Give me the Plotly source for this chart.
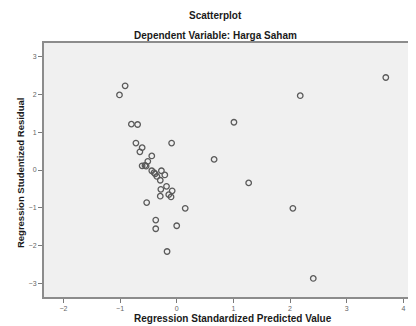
import plotly.graph_objects as go

# Regression Standardized Predicted Value
pred = [-1.01, -0.91, 2.18, 3.69, 1.01, 0.66, 1.27, 2.05, 2.41,
        -0.80, -0.69, -0.09, -0.72, -0.61, -0.65, -0.44, -0.51, -0.61,
        -0.54, -0.56, -0.44, -0.27, -0.40, -0.35, -0.21, -0.29, -0.18,
        -0.28, -0.08, -0.14, -0.10, -0.29, -0.53, 0.15, -0.37, -0.37,
        0.00, -0.17, -0.38]
# Regression Studentized Residual
resid = [1.98, 2.22, 1.96, 2.44, 1.26, 0.28, -0.34, -1.01, -2.86,
         1.21, 1.20, 0.71, 0.71, 0.59, 0.48, 0.37, 0.23, 0.11,
         0.10, 0.12, -0.02, -0.02, -0.07, -0.17, -0.13, -0.27, -0.43,
         -0.51, -0.55, -0.65, -0.71, -0.69, -0.86, -1.01, -1.32, -1.55,
         -1.47, -2.15, -0.10]

x_ticks = [-2, -1, 0, 1, 2, 3, 4]
y_ticks = [-3, -2, -1, 0, 1, 2, 3]

fig = go.Figure()
fig.add_trace(go.Scatter(
    x=pred, y=resid, mode="markers",
    marker=dict(symbol="circle-open", size=5.5, color="#5a5a5a",
                line=dict(width=1.3, color="#5a5a5a")),
    showlegend=False,
))

axis_common = dict(
    showgrid=False, zeroline=False, showline=True, linecolor="#8c8c8c",
    linewidth=2, ticks="outside", ticklen=4, tickcolor="#7a7a7a",
    tickwidth=1, tickfont=dict(family="Arial, Liberation Sans", size=7, color="#666666"),
)

# the page body adds an 8px offset; size the figure to fill the remaining window
fig.update_layout(
    width=408, height=318,
    margin=dict(l=36, r=0, t=35, b=29),
    paper_bgcolor="white", plot_bgcolor="#f0f0f0",
    xaxis=dict(range=[-2.342, 4.223], tickvals=x_ticks, mirror=True, **axis_common),
    yaxis=dict(range=[-3.35, 3.35], tickvals=y_ticks, **axis_common),
    font=dict(family="Arial, Liberation Sans"),
)

bold = dict(family="Arial, Liberation Sans", size=10, color="#1a1a1a")
fig.add_annotation(text="<b>Scatterplot</b>", xref="paper", yref="paper",
                   x=0.462, y=1.110, showarrow=False, font=bold,
                   xanchor="center", yanchor="middle")
fig.add_annotation(text="<b>Dependent Variable: Harga Saham</b>", xref="paper", yref="paper",
                   x=0.462, y=1.031, showarrow=False, font=bold,
                   xanchor="center", yanchor="middle")
fig.add_annotation(text="<b>Regression Standardized Predicted Value</b>", xref="paper", yref="paper",
                   x=0.508, y=-0.083, showarrow=False, font=bold,
                   xanchor="center", yanchor="middle")
fig.add_annotation(text="<b>Regression Studentized Residual</b>", xref="paper", yref="paper",
                   x=-0.0645, y=0.488, showarrow=False, font=dict(bold, size=9.5),
                   textangle=-90, xanchor="center", yanchor="middle")

fig.write_html("out.html")
